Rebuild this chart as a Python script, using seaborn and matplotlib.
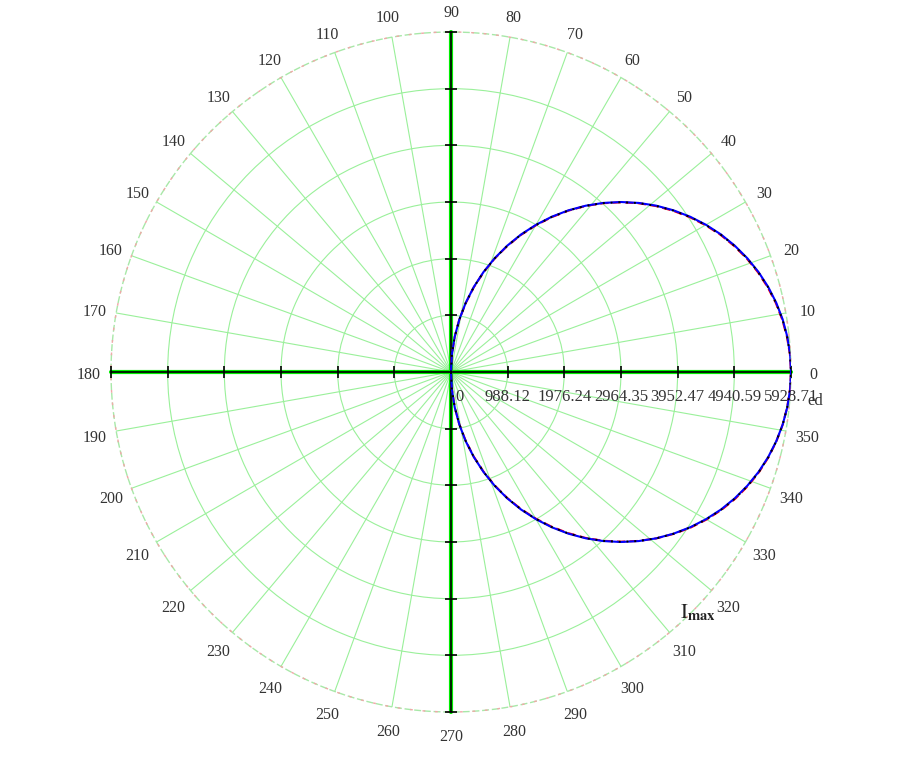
import numpy as np
import pandas as pd
import seaborn as sns
import matplotlib.pyplot as plt
from matplotlib.transforms import offset_copy

# angle of each curve point (degrees) and the radius
angles_deg = [-90, -87, -84, -81, -78, -75, -72, -69, -66, -63, -60, -57, -54, -51, -48, -45, -42, -39, -36, -33,
              -30, -27, -24, -21, -18, -15, -12, -9, -6, -3, 0, 3, 6, 9, 12, 15, 18, 21, 24, 27, 30,
              33, 36, 39, 42, 45, 48, 51, 54, 57, 60, 63, 66, 69, 72, 75, 78, 81, 84, 87, 90]
r_blue = [0, 310, 620, 927, 1233, 1534, 1832, 2125, 2411, 2692, 2964, 3229, 3485, 3731, 3967, 4192, 4406, 4608,
          4796, 4972, 5134, 5283, 5416, 5535, 5639, 5727, 5799, 5856, 5896, 5921, 5929, 5921, 5896, 5856, 5799,
          5727, 5639, 5535, 5416, 5283, 5134, 4972, 4796, 4608, 4406, 4192, 3967, 3731, 3485, 3229, 2964, 2692,
          2411, 2125, 1832, 1534, 1233, 927, 620, 310, 0]
r_red = [0, 300, 610, 918, 1222, 1524, 1820, 2114, 2400, 2680, 2950, 3215, 3472, 3722, 3960, 4185, 4402, 4610,
         4802, 4982, 5145, 5295, 5428, 5546, 5648, 5733, 5802, 5856, 5894, 5918, 5929, 5918, 5890, 5848, 5790,
         5716, 5628, 5524, 5404, 5272, 5122, 4960, 4785, 4598, 4398, 4185, 3960, 3724, 3476, 3218, 2950, 2680,
         2400, 2115, 1822, 1525, 1224, 920, 612, 303, 0]
r_black = [0, 306, 615, 922, 1228, 1529, 1826, 2120, 2406, 2686, 2957, 3222, 3478, 3727, 3963, 4188, 4404, 4609,
           4799, 4977, 5140, 5289, 5422, 5540, 5644, 5730, 5800, 5856, 5895, 5920, 5929, 5920, 5893, 5852, 5795,
           5722, 5634, 5530, 5410, 5278, 5128, 4966, 4790, 4603, 4402, 4188, 3963, 3727, 3480, 3223, 2957, 2686,
           2405, 2120, 1827, 1529, 1228, 923, 616, 306, 0]

# radial rings and their labels
ring_values = [988.12, 1976.24, 2964.35, 3952.47, 4940.59, 5928.71]
ring_labels = ['0', '988.12', '1976.24', '2964.35', '3952.47', '4940.59', '5928.71']
theta_ticks = list(range(0, 360, 10))

sns.set_style('white')
plt.rcParams['font.family'] = ['Liberation Serif', 'DejaVu Serif']
plt.rcParams['mathtext.fontset'] = 'stix'

W, H = 915, 757
fig = plt.figure(figsize=(W / 100, H / 100), dpi=100)
cx, cy, R_px = 451, 372, 340
ax = fig.add_axes([(cx - R_px) / W, (H - cy - R_px) / H, 2 * R_px / W, 2 * R_px / H], projection='polar')

rmax = ring_values[-1]
ax.set_ylim(0, rmax)
ax.spines['polar'].set_visible(False)

# grid
ax.set_thetagrids(theta_ticks, [''] * len(theta_ticks))
ax.set_yticks(ring_values[:-1])
ax.set_yticklabels([])
ax.grid(True, color='#9af09a', lw=0.8)

# angle labels around the rim
for t in theta_ticks:
    d = 22  # pixels beyond the rim
    ox = d * np.cos(np.deg2rad(t))
    oy = d * np.sin(np.deg2rad(t)) - 3
    tr = offset_copy(ax.transData, fig=fig, x=ox, y=oy, units='dots')
    ax.text(np.deg2rad(t), rmax, str(t), transform=tr, ha='center', va='center',
            fontsize=11.5, color='#333333', clip_on=False)

# outer dashed circle
tt = np.linspace(0, 2 * np.pi, 721)
ax.plot(tt, np.full_like(tt, rmax), color='#a8e8a8', lw=1, ls=(0, (5, 2)), clip_on=False)
ax.plot(tt, np.full_like(tt, rmax), color='#f0a8a8', lw=1, ls=(1, (2, 7)), clip_on=False)

# cross axes with tick marks
for th in [0, np.pi / 2, np.pi, 3 * np.pi / 2]:
    ax.plot([th, th], [0, rmax], color='#00ee00', lw=3, clip_on=False, zorder=3)
    ax.plot([th, th], [0, rmax], color='black', lw=1.2, clip_on=False, zorder=4)
    mk = '|' if th in (0, np.pi) else '_'
    ax.plot([th] * len(ring_values), ring_values, ls='none', marker=mk, ms=9, mew=1.2,
            color='black', clip_on=False, zorder=4)

# curves
curves = pd.DataFrame({'theta': np.deg2rad(angles_deg), 'red': r_red, 'blue': r_blue, 'black': r_black})
sns.lineplot(data=curves, x='theta', y='red', ax=ax, color='red', linestyle=(0, (4, 2)), lw=1.5, sort=False, zorder=5)
sns.lineplot(data=curves, x='theta', y='blue', ax=ax, color='blue', lw=1.5, sort=False, zorder=6)
sns.lineplot(data=curves, x='theta', y='black', ax=ax, color='black', linestyle=(0, (1, 3)), lw=1.4, sort=False, zorder=7)
ax.set_xlabel('')
ax.set_ylabel('')

# radial labels under the 0 degree axis
for i, lab in enumerate(ring_labels):
    r = 0 if i == 0 else ring_values[i - 1]
    dx = 6 if i == 0 else 0
    tr = offset_copy(ax.transData, fig=fig, x=dx, y=-12, units='points')
    ax.text(0, r, lab, transform=tr, ha='center', va='top', fontsize=12, color='#333333', clip_on=False)

fig.text(815 / W, 1 - 401 / H, 'ed', fontsize=12, color='#333333', ha='center', va='center')
fig.text(680 / W, 1 - 613 / H, r'$\mathrm{I}_{\mathbf{max}}$', fontsize=15, color='#222222', ha='left', va='center')

fig.savefig('out.png', dpi=100, facecolor='white')
